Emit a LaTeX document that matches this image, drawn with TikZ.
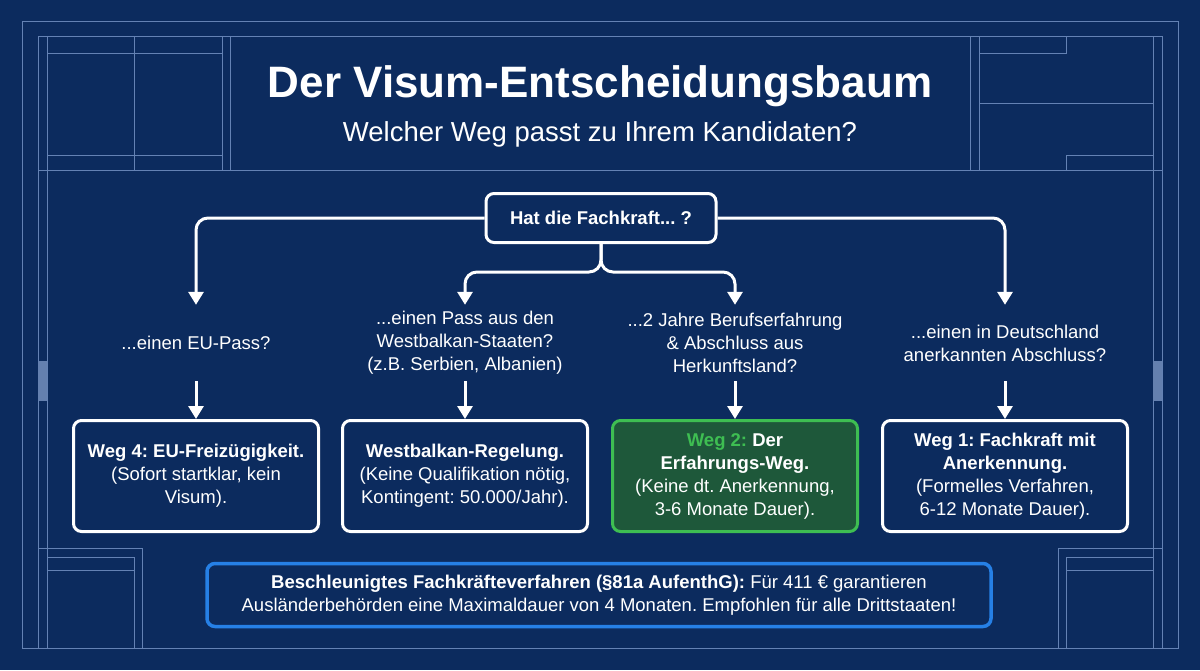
\documentclass[tikz,border=0pt]{standalone}
\usepackage{fontspec}
\setmainfont{Liberation Sans}
\usepackage{tikz}
\usetikzlibrary{arrows.meta, calc, positioning}
\frenchspacing

\definecolor{bgblue}{RGB}{12,43,94}
\definecolor{gridblue}{RGB}{100,130,180}
\definecolor{tabblue}{RGB}{100,128,175}
\definecolor{wegfill}{RGB}{30,88,58}
\definecolor{weggreen}{RGB}{62,190,82}
\definecolor{hintblue}{RGB}{38,128,230}

\newcommand{\bodyfont}{\fontsize{18.5}{23}\selectfont}

\tikzset{
  frame/.style={draw=gridblue, line width=0.8pt},
  question/.style={text=white, align=center, minimum height=76pt, inner sep=0pt, font=\bodyfont},
  pathbox/.style={draw=white, line width=3pt, rounded corners=8pt, fill=bgblue, text=white,
    align=center, minimum width=245pt, minimum height=111pt, inner sep=0pt, font=\bodyfont},
  conn/.style={draw=white, line width=3pt, rounded corners=12pt, -{Triangle[width=15pt,length=13pt]}}
}

\begin{document}
\begin{tikzpicture}[x=1pt, y=-1pt]
\fill[bgblue] (0,0) rectangle (1200,670);
\useasboundingbox (0,0) rectangle (1200,670);

% blueprint frame
\draw[frame] (22,21) rectangle (1178,648);
\draw[frame] (38,36) -- (1162,36);
\draw[frame] (38,36) -- (38,648) (47,36) -- (47,648);
\draw[frame] (1153,36) -- (1153,648) (1162,36) -- (1162,648);
\draw[frame] (38,170) -- (1162,170);
\draw[frame] (47,53) -- (222,53) (47,155) -- (222,155);
\draw[frame] (134,36) -- (134,170) (222,36) -- (222,170) (230,36) -- (230,170);
\draw[frame] (970,36) -- (970,170) (979,36) -- (979,170);
\draw[frame] (979,53) -- (1066,53) -- (1066,36);
\draw[frame] (979,103) -- (1153,103);
\draw[frame] (1066,170) -- (1066,155) -- (1153,155);
\draw[frame] (38,548) -- (142,548) -- (142,648);
\draw[frame] (47,557) -- (134,557) -- (134,648) (47,570) -- (134,570);
\draw[frame] (1162,548) -- (1058,548) -- (1058,648);
\draw[frame] (1153,557) -- (1066,557) -- (1066,648) (1066,570) -- (1153,570);
\fill[tabblue] (38,361) rectangle (47,401);
\fill[tabblue] (1153,361) rectangle (1162,401);

% title
\node (title) at (600,86) [text=white, font=\fontsize{44}{50}\selectfont\bfseries] {Der Visum-Entscheidungsbaum};
\node (subtitle) at (600,134) [text=white, font=\fontsize{27.5}{32}\selectfont] {Welcher Weg passt zu Ihrem Kandidaten?};

% tree
\node (root) at (601,218) [draw=white, line width=3pt, rounded corners=8pt, text=white,
  minimum width=230pt, minimum height=49pt, font=\bodyfont\bfseries] {Hat die Fachkraft... ?};
\coordinate (split) at (601,272);

\node (eu) at (196,343) [question] {...einen EU-Pass?};
\node (balkan) at (465,343) [question] {...einen Pass aus den\\Westbalkan-Staaten?\\(z.B. Serbien, Albanien)};
\node (erfahrung) at (735,343) [question] {...2 Jahre Berufserfahrung\\\& Abschluss aus\\Herkunftsland?};
\node (anerkannt) at (1005,343) [question] {...einen in Deutschland\\anerkannten Abschluss?};

\node (weg4) at (196,476) [pathbox] {\textbf{Weg 4: EU-Freizügigkeit.}\\(Sofort startklar, kein\\Visum).};
\node (wegwb) at (465,476) [pathbox] {\textbf{Westbalkan-Regelung.}\\(Keine Qualifikation nötig,\\Kontingent: 50.000/Jahr).};
\node (weg2) at (735,476) [pathbox, draw=weggreen, fill=wegfill] {\textbf{\textcolor{weggreen}{Weg 2:} Der}\\\textbf{Erfahrungs-Weg.}\\(Keine dt. Anerkennung,\\3-6 Monate Dauer).};
\node (weg1) at (1005,476) [pathbox] {\textbf{Weg 1: Fachkraft mit}\\\textbf{Anerkennung.}\\(Formelles Verfahren,\\6-12 Monate Dauer).};

\draw[conn] (root.west) -| (eu.north);
\draw[conn] (root.east) -| (anerkannt.north);
\draw[conn] (root.south) -- (split) -| (balkan.north);
\draw[conn] (root.south) -- (split) -| (erfahrung.north);
\draw[conn] (eu.south) -- (weg4.north);
\draw[conn] (balkan.south) -- (wegwb.north);
\draw[conn] (erfahrung.south) -- (weg2.north);
\draw[conn] (anerkannt.south) -- (weg1.north);

% hint
\node (hint) at (599,595) [draw=hintblue, line width=3.5pt, rounded corners=8pt, fill=bgblue, text=white,
  align=center, minimum width=784pt, minimum height=63pt, inner sep=0pt, font=\bodyfont]
  {\textbf{Beschleunigtes Fachkräfteverfahren (§81a AufenthG):} Für 411 € garantieren\\Ausländerbehörden eine Maximaldauer von 4 Monaten. Empfohlen für alle Drittstaaten!};
\end{tikzpicture}
\end{document}
